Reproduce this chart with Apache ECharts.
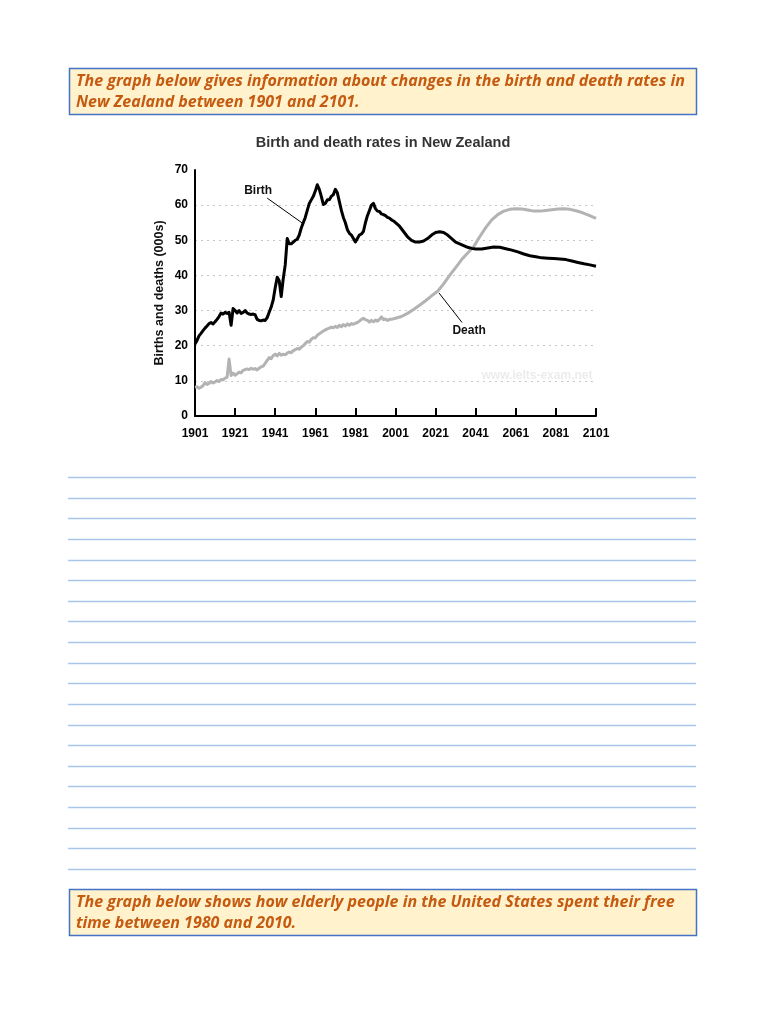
<!DOCTYPE html>
<html>
<head>
<meta charset="utf-8">
<script src="https://cdn.jsdelivr.net/npm/echarts@6/dist/echarts.min.js"></script>
<style>
html,body{margin:0;padding:0;background:#fff;}
#main{width:768px;height:1024px;}
</style>
</head>
<body>
<div id="main"></div>
<script>
// ---- data ----
var chartTitle = 'Birth and death rates in New Zealand';
var yAxisName = 'Births and deaths (000s)';
var topNote = ['The graph below gives information about changes in the birth and death rates in', 'New Zealand between 1901 and 2101.'];
var bottomNote = ['The graph below shows how elderly people in the United States spent their free', 'time between 1980 and 2010.'];

var birthYears = [1901,1902,1903,1904,1905,1906,1907,1908,1909,1910,1911,1912,1913,1914,1915,1916,1917,1918,1919,1920,
1921,1922,1923,1924,1925,1926,1927,1928,1929,1930,1931,1932,1933,1934,1935,1936,1937,1938,1939,1940,
1941,1942,1943,1944,1945,1946,1947,1948,1949,1950,1951,1952,1953,1954,1955,1956,1957,1958,1959,1960,
1961,1962,1963,1964,1965,1966,1967,1968,1969,1970,1971,1972,1973,1974,1975,1976,1977,1978,1979,1980,
1981,1982,1983,1984,1985,1986,1987,1988,1989,1990,1991,1992,1993,1994,1995,1996,1997,1998,1999,2000,
2001,2003,2005,2007,2009,2011,2013,2015,2017,2019,2021,2023,2025,2027,2029,2031,2033,2035,2037,2039,
2041,2044,2047,2050,2053,2056,2059,2062,2065,2068,2071,2074,2077,2080,2083,2086,2089,2092,2095,2098,2101];
var birthValues = [20.5,21.5,22.8,23.5,24.3,25,25.6,26.3,26.6,26.2,26.8,27.5,28.3,29.3,29,29.5,29.2,29.5,25.8,30.6,
30,29.3,30,29.2,29.5,30,29.3,29,28.9,29,28.8,27.5,27.2,27.1,27.3,27.2,28,29.5,31,33,
36.5,39.5,38.5,34,39,43,50.5,49,49,49.5,50,50.3,51.5,53.5,55,56.5,58.5,60.5,61.5,62.5,
64,65.8,64.5,62.5,60.2,60.5,61.5,61.5,62.5,63,64.5,63.5,61,58.5,56.5,55,53,52,51.5,50.5,
49.5,50.5,51.5,51.8,52.5,55,57,58.5,60,60.5,59,58.3,58.2,57.5,57.3,57,56.5,56.3,55.8,55.5,
55,54,52.5,51,50,49.5,49.5,49.8,50.5,51.5,52.2,52.4,52.2,51.5,50.5,49.5,49,48.5,48,47.7,
47.5,47.5,47.8,48.1,48,47.6,47.2,46.7,46.1,45.6,45.3,45,44.9,44.8,44.7,44.5,44.1,43.7,43.3,43,42.6];

var deathYears = [1901,1902,1903,1904,1905,1906,1907,1908,1909,1910,1911,1912,1913,1914,1915,1916,1917,1918,1919,1920,
1921,1922,1923,1924,1925,1926,1927,1928,1929,1930,1931,1932,1933,1934,1935,1936,1937,1938,1939,1940,
1941,1942,1943,1944,1945,1946,1947,1948,1949,1950,1951,1952,1953,1954,1955,1956,1957,1958,1959,1960,
1961,1962,1963,1964,1965,1966,1967,1968,1969,1970,1971,1972,1973,1974,1975,1976,1977,1978,1979,1980,
1981,1982,1983,1984,1985,1986,1987,1988,1989,1990,1991,1992,1993,1994,1995,1996,1997,1998,1999,2001,
2004,2007,2010,2013,2016,2019,2022,2025,2028,2031,2034,2037,2040,2043,2046,2049,2052,2055,2058,2061,
2064,2067,2070,2073,2076,2079,2082,2085,2088,2091,2094,2097,2101];
var deathValues = [8.2,8.3,7.9,8.2,8.6,9.5,9.0,9.3,9.8,9.4,9.7,10.1,9.8,10.4,10.3,10.8,11,16.2,11.5,12.2,
11.6,12,12.5,12.3,13,13.2,13.4,13.2,13.6,13.3,13.5,13.1,13.6,14,14.2,15,15.8,16.6,16.3,17.2,
17.6,17.1,17.8,17.3,17.6,17.4,17.9,18.2,18,18.6,18.9,19.2,19,19.6,20,20.6,21.2,21,21.8,22.3,
22.2,23,23.4,23.8,24.2,24.5,24.8,25,25.3,25.1,25.5,25.2,25.8,25.4,26,25.6,26.2,25.8,26.3,26.1,
26.4,26.6,27,27.5,27.8,27.4,27.2,26.7,27.2,26.8,27.3,27,27.5,28.2,27.4,27.6,27.2,27.5,27.5,27.8,
28.3,29.2,30.3,31.5,32.8,34.2,35.5,37.6,40,42.2,44.5,46.4,48.2,51,53.6,55.8,57.3,58.3,58.8,59,
58.9,58.6,58.3,58.3,58.5,58.7,58.9,59,58.8,58.4,57.9,57.2,56.2];

// annotation anchors in data units
var birthLabel = {text: 'Birth', at: [1932.5, 64], from: [1937, 62], to: [1954.5, 54.9]};
var deathLabel = {text: 'Death', at: [2037.7, 24.4], from: [2034.2, 26.6], to: [2022.7, 35]};
var watermark = 'www.ielts-exam.net';

// ---- build ----
function zip(a, b){ var r=[]; for (var i=0;i<a.length;i++) r.push([a[i], b[i]]); return r; }

var FONT = '"Liberation Sans", Arial, sans-serif';
var NOTE_FONT = '"Open Sans", Lato, sans-serif';

var graphics = [];
function noteBox(top, lines){
  graphics.push({type:'rect', shape:{x:69.5, y:top+0.5, width:627, height:46},
    style:{fill:'#fff2cc', stroke:'#4472c4', lineWidth:1.5}, z:1});
  for (var i=0;i<lines.length;i++){
    graphics.push({type:'text', x:76, y:top+13.5+i*21, z:2,
      style:{text:lines[i], fill:'#c55a11', font:'italic bold 16px ' + NOTE_FONT, textVerticalAlign:'middle', textAlign:'left'}});
  }
}
noteBox(68, topNote);
noteBox(889, bottomNote);
for (var k=0;k<20;k++){
  var yy = Math.round(477 + k*20.63) + 0.5;
  graphics.push({type:'line', shape:{x1:68, y1:yy, x2:696, y2:yy}, style:{stroke:'#a9c6ea', lineWidth:1.6}, z:1});
}
graphics.push({type:'text', x:537, y:376, z:0, style:{text:watermark, fill:'#ececec', font:'bold 12px ' + FONT, textAlign:'center', textVerticalAlign:'middle'}});

function annot(a){
  return {
    markPoint:{symbol:'circle', symbolSize:0, silent:true,
      label:{show:true, formatter:a.text, color:'#111', fontFamily:FONT, fontWeight:'bold', fontSize:12, position:'inside'},
      data:[{coord:a.at}]},
    markLine:{symbol:['none','none'], silent:true, animation:false,
      lineStyle:{color:'#000', width:1, type:'solid'}, label:{show:false},
      data:[[{coord:a.from},{coord:a.to}]]}
  };
}

var ba = annot(birthLabel), da = annot(deathLabel);

var option = {
  animation:false,
  textStyle:{fontFamily:FONT},
  title:{text:chartTitle, left:378, top:130, textAlign:'center',
    textStyle:{fontFamily:FONT, fontSize:14.5, fontWeight:'bold', color:'#333'}},
  grid:{left:195, right:172, top:170, bottom:608, containLabel:false},
  xAxis:{type:'value', min:1901, max:2101, interval:20,
    axisLine:{show:true, lineStyle:{color:'#000', width:2}},
    axisTick:{show:true, inside:true, length:8, lineStyle:{color:'#000', width:2}},
    splitLine:{show:false},
    axisLabel:{color:'#000', fontFamily:FONT, fontWeight:'bold', fontSize:12, margin:12, formatter:function(v){return String(v);}}},
  yAxis:{type:'value', min:0, max:70, interval:10, name:yAxisName, nameLocation:'middle', nameGap:29, nameMoveOverlap:false,
    nameTextStyle:{color:'#111', fontFamily:FONT, fontWeight:'bold', fontSize:12.5},
    axisLine:{show:true, lineStyle:{color:'#000', width:2}},
    axisTick:{show:false},
    splitLine:{show:true, lineStyle:{color:['rgba(0,0,0,0)','#c8c8c8','#c8c8c8','#c8c8c8','#c8c8c8','#c8c8c8','#c8c8c8','rgba(0,0,0,0)'], width:1, type:[2,4]}},
    axisLabel:{color:'#000', fontFamily:FONT, fontWeight:'bold', fontSize:12, margin:7}},
  series:[
    {name:'Death', type:'line', data:zip(deathYears, deathValues), showSymbol:false, symbol:'none',
      lineStyle:{color:'#b3b3b3', width:3, join:'round'}, z:2,
      markPoint:da.markPoint, markLine:da.markLine},
    {name:'Birth', type:'line', data:zip(birthYears, birthValues), showSymbol:false, symbol:'none',
      lineStyle:{color:'#000', width:3, join:'round'}, z:3,
      markPoint:ba.markPoint, markLine:ba.markLine}
  ],
  graphic:graphics
};

var chart = echarts.init(document.getElementById('main'), null, {renderer:'canvas'});
chart.setOption(option);
</script>
</body>
</html>
